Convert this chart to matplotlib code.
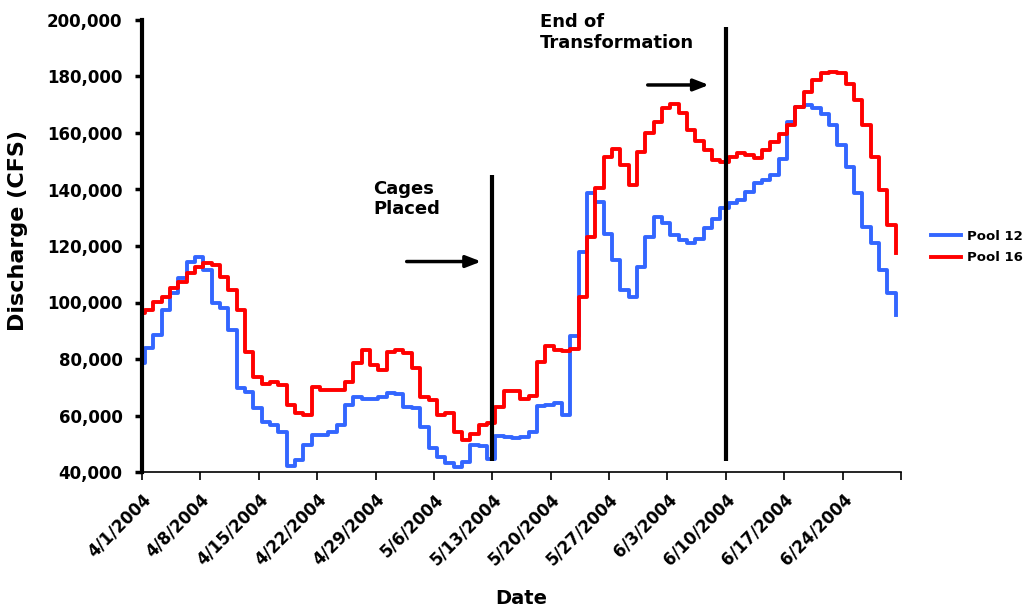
import numpy as np
import matplotlib
matplotlib.use("Agg")
import matplotlib.pyplot as plt
import matplotlib.dates as mdates
from matplotlib.ticker import FuncFormatter
import datetime as dt

# daily discharge, thousands of CFS, 4/1/2004 .. 6/30/2004 (+ last reading)
pool12 = [78.5, 84, 88.5, 97.3, 103.3, 108.6, 114.3, 116.2, 111.5, 99.7,
          97.9, 90.3, 69.6, 68.4, 62.5, 57.8, 56.6, 54.3, 42, 44.2,
          49.5, 53, 53.1, 54.2, 56.6, 63.7, 66.4, 66, 65.7, 66.6,
          68.1, 67.6, 63.1, 62.6, 56.1, 48.4, 45.4, 43.1, 41.9, 43.7,
          49.6, 49.3, 44.5, 52.9, 52.5, 52, 52.5, 54.3, 63.4, 63.7,
          64.3, 60.2, 88, 118, 138.6, 135.6, 124.4, 115, 104.4, 102,
          112.6, 123.3, 130.4, 128, 123.9, 122.1, 121.2, 122.4, 126.2, 129.6,
          133.3, 135.3, 136.3, 139.2, 142.2, 143.4, 145.2, 150.8, 164.0, 169.3,
          169.9, 168.7, 166.9, 162.8, 155.7, 148.0, 138.6, 126.8, 120.9, 111.5,
          103.2, 95.5]
pool16 = [96.2, 97.3, 100.3, 102.1, 105, 107.4, 110.3, 112.7, 113.9, 113.3,
          109.1, 104.4, 97.3, 82.6, 73.7, 71.3, 72, 70.7, 63.7, 60.8,
          60.2, 70.2, 69, 69, 69, 72, 78.5, 83.2, 78, 76,
          82.6, 83.2, 82, 76.7, 66.7, 65.5, 60.2, 60.8, 54.2, 51.3,
          53.6, 56.5, 57.5, 63.1, 68.8, 68.8, 66, 67, 78.8, 84.7,
          83.2, 83, 83.5, 102, 123.3, 140.4, 151.6, 154.5, 148.7, 141.6,
          153.4, 159.9, 164, 168.7, 170.3, 167, 161.1, 157, 154, 150.6,
          149.8, 151.6, 152.8, 152.2, 151.2, 153.9, 156.9, 159.8, 162.8, 169.3,
          174.6, 178.7, 181.1, 181.7, 181.1, 177.5, 171.6, 162.8, 151.6, 139.8,
          127.4, 117.6]

start = dt.datetime(2004, 4, 1)
n = len(pool12)
# readings change a little after midnight-ish, first reading at start
offsets = [0.0] + [k - 0.65 for k in range(1, n)]
x = [mdates.date2num(start + dt.timedelta(days=o)) for o in offsets]

tick_dates = [start + dt.timedelta(days=7 * i) for i in range(14)]
tick_labels = [f"{d.month}/{d.day}/{d.year}" for d in tick_dates[:-1]] + [""]

plt.rcParams['font.family'] = ['DejaVu Sans']
plt.rcParams['font.weight'] = 'bold'

fig = plt.figure(figsize=(10.26, 6.10), dpi=100)
ax = fig.add_axes([142 / 1026, 1 - 472 / 610, (901 - 142) / 1026, (472 - 20) / 610])

ax.plot(x, np.array(pool12) * 1000, color='#3366ff', lw=2.8, drawstyle='steps-post', label='Pool 12')
ax.plot(x, np.array(pool16) * 1000, color='#ff0000', lw=2.8, drawstyle='steps-post', label='Pool 16')

d = lambda days: mdates.date2num(start + dt.timedelta(days=days))
# event markers
ax.plot([d(42), d(42)], [44000, 145000], color='black', lw=3, solid_capstyle='butt')
ax.plot([d(70), d(70)], [44000, 197500], color='black', lw=3, solid_capstyle='butt', clip_on=False)
ax.annotate('', xy=(d(41.0), 114500), xytext=(d(31.4), 114500),
            arrowprops=dict(arrowstyle='-|>,head_length=0.9,head_width=0.35', color='black', lw=2.5))
ax.annotate('', xy=(d(68.3), 177000), xytext=(d(60.3), 177000),
            arrowprops=dict(arrowstyle='-|>,head_length=0.9,head_width=0.35', color='black', lw=2.5))
ax.text(d(27.7), 143500, 'Cages\nPlaced', fontsize=13, fontweight='bold', va='top', ha='left')
ax.text(d(47.7), 202500, 'End of\nTransformation', fontsize=13, fontweight='bold', va='top',
        ha='left', clip_on=False)

ax.set_xlim(d(0), d(91))
ax.set_ylim(40000, 200000)
ax.set_yticks(np.arange(40000, 200001, 20000))
ax.yaxis.set_major_formatter(FuncFormatter(lambda v, p: f"{int(v):,}"))
ax.set_xticks([mdates.date2num(t) for t in tick_dates])
ax.set_xticklabels(tick_labels, rotation=45, ha='right', rotation_mode='anchor', fontsize=12,
                   fontweight='bold')
for lab in ax.get_yticklabels():
    lab.set_fontsize(12)
    lab.set_fontweight('bold')

ax.spines['top'].set_visible(False)
ax.spines['right'].set_visible(False)
ax.spines['left'].set_linewidth(3)
ax.spines['bottom'].set_linewidth(1.2)
ax.tick_params(axis='y', direction='out', length=5, width=2.5, pad=9)
ax.tick_params(axis='x', direction='out', length=6, width=1.2, pad=7)

ax.set_ylabel('Discharge (CFS)', fontsize=16, fontweight='bold')
ax.yaxis.set_label_coords(-0.150, 0.535)
ax.set_xlabel('Date', fontsize=14, fontweight='bold')
ax.xaxis.set_label_coords(0.5, -0.258)

fig.legend(loc='center left', bbox_to_anchor=(931 / 1026, 1 - 247 / 610), frameon=False,
           fontsize=9.5, handlelength=2.3, handletextpad=0.4, borderpad=0, borderaxespad=0,
           labelspacing=0.65)

fig.savefig('out.png', dpi=100)
